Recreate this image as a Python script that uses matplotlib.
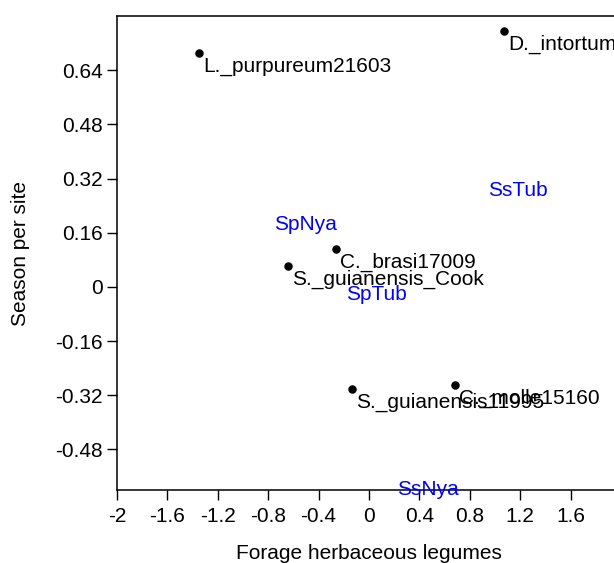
import matplotlib
matplotlib.use("Agg")
import matplotlib.pyplot as plt

plt.rcParams["font.family"] = ["Liberation Sans", "DejaVu Sans"]

# species scores (black dots with labels)
species = ["L._purpureum21603", "D._intortum", "C._brasi17009",
           "S._guianensis_Cook", "S._guianensis11995", "C._molle15160"]
sp_x = [-1.347, 1.071, -0.262, -0.640, -0.133, 0.685]
sp_y = [0.692, 0.757, 0.112, 0.061, -0.302, -0.289]

# season/site scores (blue text only)
sites = ["SsTub", "SpNya", "SpTub", "SsNya"]
site_x = [1.183, -0.508, 0.056, 0.468]
site_y = [0.284, 0.183, -0.024, -0.598]

xticks = [-2, -1.6, -1.2, -0.8, -0.4, 0, 0.4, 0.8, 1.2, 1.6]
xtick_labels = ["-2", "-1.6", "-1.2", "-0.8", "-0.4", "0", "0.4", "0.8", "1.2", "1.6"]
yticks = [-0.48, -0.32, -0.16, 0, 0.16, 0.32, 0.48, 0.64]
ytick_labels = ["-0.48", "-0.32", "-0.16", "0", "0.16", "0.32", "0.48", "0.64"]

W, H = 614, 563
fig = plt.figure(figsize=(W / 100, H / 100), dpi=100, facecolor="white")
# axes runs past the right edge of the canvas, as in the reference
ax = fig.add_axes([117 / W, (H - 490) / H, (621 - 117) / W, (490 - 16) / H])

ax.scatter(sp_x, sp_y, s=26, color="black", zorder=3)
for name, x, y in zip(species, sp_x, sp_y):
    ax.annotate(name, (x, y), xytext=(2.9, -13.5), textcoords="offset points",
                ha="left", va="baseline", fontsize=15, color="black")

for name, x, y in zip(sites, site_x, site_y):
    ax.text(x, y, name, ha="center", va="center", fontsize=15,
            color="#0000ff", zorder=4, clip_on=False)

ax.set_xlim(-2, 2)
ax.set_ylim(-0.6, 0.8)
ax.set_xticks(xticks)
ax.set_xticklabels(xtick_labels)
ax.set_yticks(yticks)
ax.set_yticklabels(ytick_labels)
ax.tick_params(direction="out", length=7, width=1.0, labelsize=15, pad=3,
               colors="black")
ax.tick_params(axis="x", pad=5)

for side in ["left", "bottom", "top"]:
    ax.spines[side].set_linewidth(1.1)
ax.spines["right"].set_visible(False)

ax.set_xlabel("Forage herbaceous legumes", fontsize=15, labelpad=13)
ax.set_ylabel("Season per site", fontsize=15, labelpad=18)

fig.savefig("out.png", dpi=100, facecolor="white")
